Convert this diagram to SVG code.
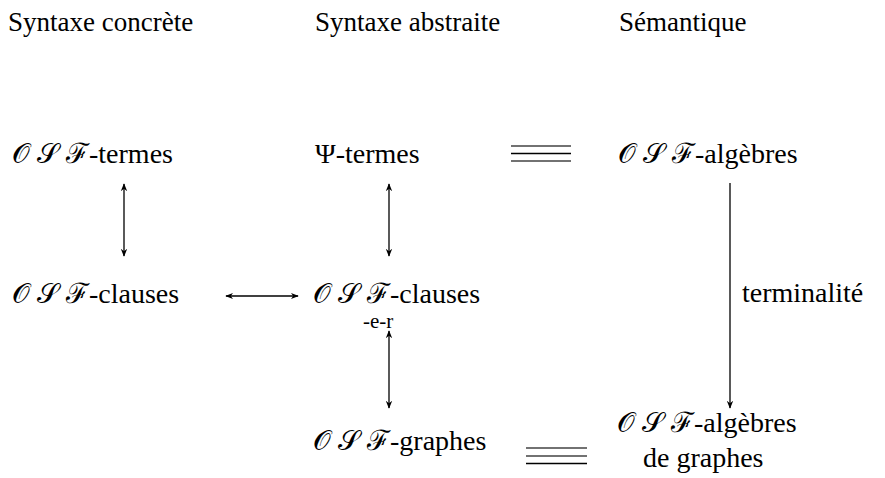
<svg xmlns="http://www.w3.org/2000/svg" width="885" height="478" viewBox="0 0 885 478">
<defs>
<marker id="ah" viewBox="0 0 10 10" refX="9" refY="5" markerWidth="8" markerHeight="8" orient="auto-start-reverse" markerUnits="userSpaceOnUse"><path d="M0,1 L10,5 L0,9 L3,5 z" fill="#000"/></marker>
</defs>
<rect width="885" height="478" fill="#fff"/>
<g id="headers">
<text font-family="Liberation Serif" font-size="27" x="8" y="31">Syntaxe concrète</text>
<text font-family="Liberation Serif" font-size="27" x="315" y="31">Syntaxe abstraite</text>
<text font-family="Liberation Serif" font-size="27" x="619" y="31">Sémantique</text>
</g>
<g id="osf-termes"><text font-family="Liberation Serif" font-size="28" x="12" y="163"><tspan letter-spacing="7">𝒪𝒮</tspan>ℱ-termes</text></g>
<g id="psi-termes"><text font-family="Liberation Serif" font-size="28" x="315" y="163">Ψ-termes</text></g>
<g id="osf-algebres"><text font-family="Liberation Serif" font-size="28" x="618" y="163"><tspan letter-spacing="7">𝒪𝒮</tspan>ℱ-algèbres</text></g>
<g id="osf-clauses"><text font-family="Liberation Serif" font-size="28" x="12" y="303"><tspan letter-spacing="7">𝒪𝒮</tspan>ℱ-clauses</text></g>
<g id="osf-clauses-er"><text font-family="Liberation Serif" font-size="28" x="313" y="303"><tspan letter-spacing="7">𝒪𝒮</tspan>ℱ-clauses</text><text font-family="Liberation Serif" font-size="21" x="363" y="328">-e-r</text></g>
<g id="osf-graphes"><text font-family="Liberation Serif" font-size="28" x="313" y="450"><tspan letter-spacing="7">𝒪𝒮</tspan>ℱ-graphes</text></g>
<g id="osf-algebres-graphes"><text font-family="Liberation Serif" font-size="28" x="617" y="432"><tspan letter-spacing="7">𝒪𝒮</tspan>ℱ-algèbres</text><text font-family="Liberation Serif" font-size="28" x="643" y="467">de graphes</text></g>
<g id="connectors" stroke="#000" stroke-width="1.3" fill="none">
<line x1="124" y1="184" x2="124" y2="256" marker-start="url(#ah)" marker-end="url(#ah)"/>
<line x1="389" y1="184" x2="389" y2="256" marker-start="url(#ah)" marker-end="url(#ah)"/>
<line x1="226" y1="296" x2="298" y2="296" marker-start="url(#ah)" marker-end="url(#ah)"/>
<line x1="389" y1="331" x2="389" y2="408" marker-start="url(#ah)" marker-end="url(#ah)"/>
<line x1="730" y1="183" x2="730" y2="408" marker-end="url(#ah)"/>
<path stroke="#444" d="M511,146H571M511,161H571"/>
<path d="M511,153.5H571"/>
<path stroke="#444" d="M526,448H587M526,456H587"/>
<path d="M526,463.5H587"/>
<text font-family="Liberation Serif" font-size="28" x="742" y="302" fill="#000" stroke="none">terminalité</text>
</g>
</svg>
